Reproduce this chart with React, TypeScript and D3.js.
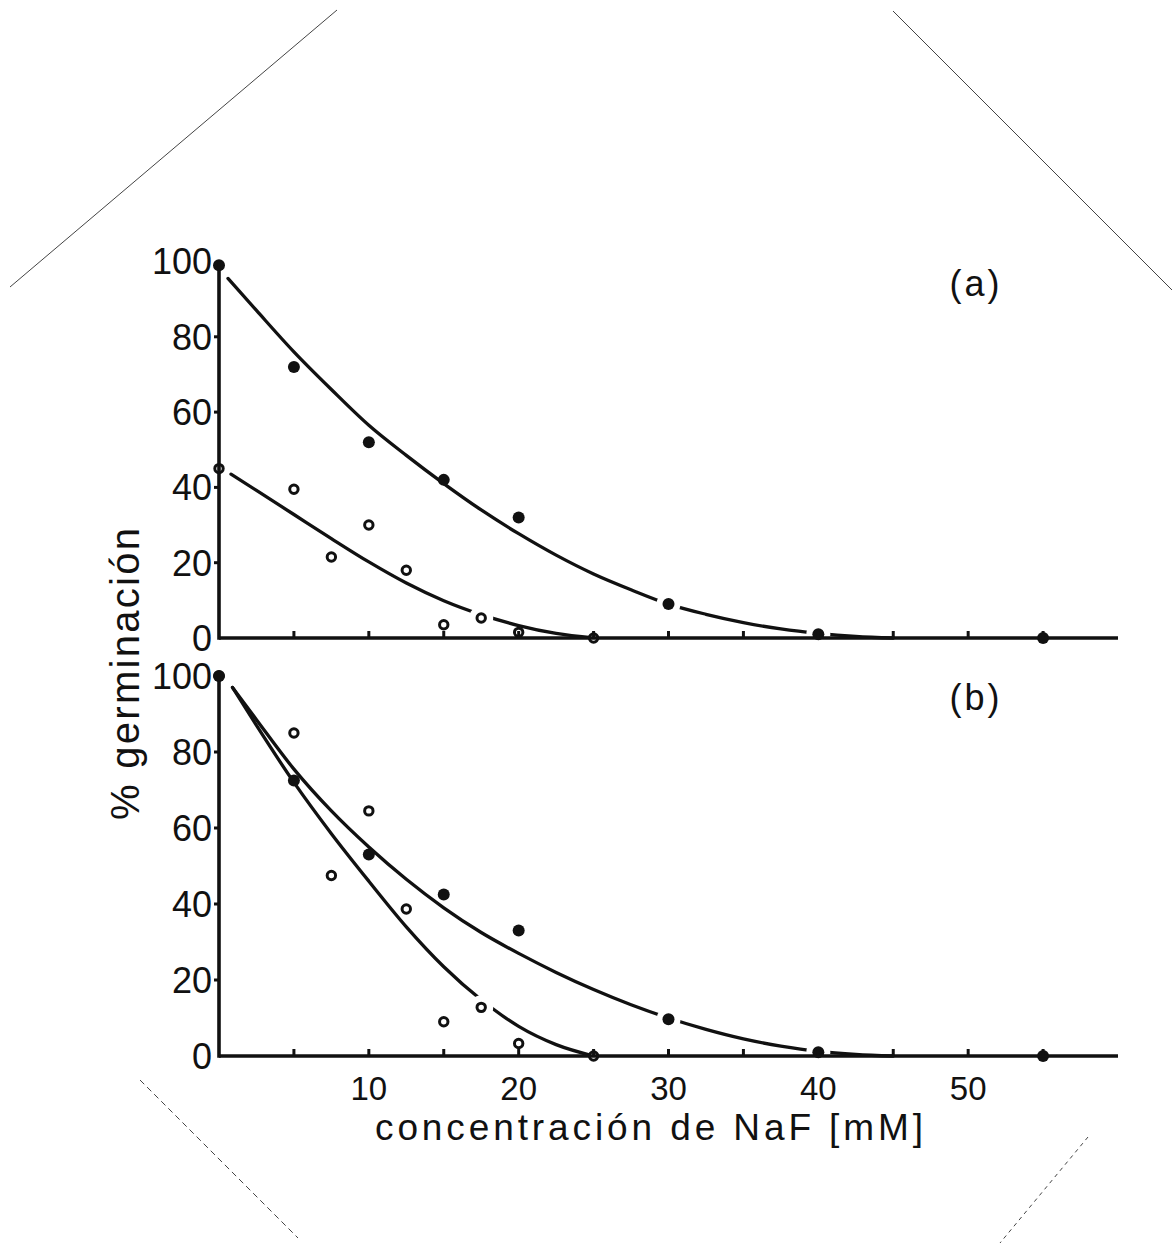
import React from 'react';
import * as d3 from 'd3';

// ---- data ----
const xTickValues = [5, 10, 15, 20, 25, 30, 35, 40, 45, 50, 55];
const xTickLabels = [10, 20, 30, 40, 50];
const yTickValues = [20, 40, 60, 80];
const yTickLabels = [0, 20, 40, 60, 80, 100];

// panel (a)
const aFilled: [number, number][] = [[0, 99], [5, 72], [10, 52], [15, 42], [20, 32], [30, 9], [40, 1], [55, 0]];
const aOpen: [number, number][] = [[0, 45], [5, 39.5], [7.5, 21.5], [10, 30], [12.5, 18], [15, 3.5], [17.5, 5.3], [20, 1.5], [25, 0]];
const aFitFilled: [number, number][] = [[0.6, 95.5], [2.5, 87], [5, 76], [7.5, 66], [10, 56.5], [12.5, 48.5], [15, 41], [17.5, 34], [20, 27.7], [22.5, 22], [25, 17], [27.5, 12.8], [30, 9], [32.5, 6.3], [35, 4.1], [37.5, 2.4], [40, 1.2], [42.5, 0.4], [45, 0]];
const aFitOpen: [number, number][] = [[0.8, 43.5], [2.5, 39.2], [5, 32.8], [7.5, 26.4], [10, 20.2], [12.5, 14.6], [15, 9.9], [17.5, 6.2], [20, 3.3], [22.5, 1.2], [25, 0]];
const aGapsFilled = [30, 40];
const aGapsOpen = [17.5];

// panel (b)
const bFilled: [number, number][] = [[0, 100], [5, 72.5], [10, 53], [15, 42.5], [20, 33], [30, 9.7], [40, 1], [55, 0]];
const bOpen: [number, number][] = [[0, 100], [5, 85], [7.5, 47.5], [10, 64.5], [12.5, 38.7], [15, 9], [17.5, 12.8], [20, 3.3], [25, 0]];
const bFitFilled: [number, number][] = [[0.9, 97], [2.5, 88.5], [5, 75.5], [7.5, 64.5], [10, 55], [12.5, 46.5], [15, 39], [17.5, 32.5], [20, 27], [22.5, 22], [25, 17.5], [27.5, 13.5], [30, 10], [32.5, 7], [35, 4.5], [37.5, 2.6], [40, 1.2], [42.5, 0.4], [45, 0]];
const bFitOpen: [number, number][] = [[0.9, 97], [2.5, 87], [5, 72], [7.5, 58.5], [10, 46], [12.5, 34], [15, 23.5], [17.5, 14.8], [20, 7.8], [22.5, 3], [25, 0]];
const bGapsFilled = [30, 40];
const bGapsOpen = [17.5];

const FONT = '"Liberation Sans", Arial, sans-serif';
const INK = '#111';

type PanelProps = {
  yBottom: number;
  yTop: number;
  filled: [number, number][];
  open: [number, number][];
  fitF: [number, number][];
  fitO: [number, number][];
  gapF: number[];
  gapO: number[];
  tag: string;
  tagY: number;
  showX: boolean;
};

function Panel({ yBottom, yTop, filled, open, fitF, fitO, gapF, gapO, tag, tagY, showX }: PanelProps) {
  const x = d3.scaleLinear().domain([0, 60]).range([219, 1118]);
  const y = d3.scaleLinear().domain([0, 100]).range([yBottom, yTop]);
  const line = d3
    .line<[number, number]>()
    .x((d) => x(d[0]))
    .y((d) => y(d[1]))
    .curve(d3.curveMonotoneX);
  const masks = [
    ...filled.filter((d) => gapF.includes(d[0])),
    ...open.filter((d) => gapO.includes(d[0])),
  ];
  const x0 = x(0);
  const y0 = y(0);
  return (
    <g>
      <path d={line(fitF) || ''} fill="none" stroke={INK} strokeWidth={3.3} strokeLinecap="round" />
      <path d={line(fitO) || ''} fill="none" stroke={INK} strokeWidth={3.3} strokeLinecap="round" />
      {masks.map((d, i) => (
        <circle key={'m' + i} cx={x(d[0])} cy={y(d[1])} r={12} fill="#fff" />
      ))}
      {open.map((d, i) => (
        <circle key={'o' + i} cx={x(d[0])} cy={y(d[1])} r={4.2} fill="#fff" stroke={INK} strokeWidth={3} />
      ))}
      {filled.map((d, i) => (
        <circle key={'f' + i} cx={x(d[0])} cy={y(d[1])} r={6} fill={INK} />
      ))}
      {/* axes */}
      <line x1={x0} x2={x(60)} y1={y0} y2={y0} stroke={INK} strokeWidth={3.6} />
      <line x1={x0} x2={x0} y1={y0 + 1.8} y2={y(100)} stroke={INK} strokeWidth={3.6} />
      {yTickValues.map((v) => (
        <line key={'yt' + v} x1={x0 - 5} x2={x0} y1={y(v)} y2={y(v)} stroke={INK} strokeWidth={3} />
      ))}
      {xTickValues.map((v) => (
        <line key={'xt' + v} x1={x(v)} x2={x(v)} y1={y0} y2={y0 - 7} stroke={INK} strokeWidth={3} />
      ))}
      {yTickLabels.map((v) => (
        <text
          key={'yl' + v}
          x={212}
          y={y(v)}
          dy="0.36em"
          textAnchor="end"
          fontFamily={FONT}
          fontSize={36}
          fill={INK}
        >
          {v}
        </text>
      ))}
      {showX &&
        xTickLabels.map((v) => (
          <text
            key={'xl' + v}
            x={x(v)}
            y={1100}
            textAnchor="middle"
            fontFamily={FONT}
            fontSize={33}
            fill={INK}
          >
            {v}
          </text>
        ))}
      <text x={976} y={tagY} dy="0.36em" textAnchor="middle" fontFamily={FONT} fontSize={36} letterSpacing={3} fill={INK}>
        {tag}
      </text>
    </g>
  );
}

export default function App() {
  return (
    <svg
      width={1174}
      height={1244}
      viewBox="0 0 1174 1244"
      style={{ position: 'absolute', left: 0, top: 0, background: '#fff' }}
    >
      <rect x={0} y={0} width={1174} height={1244} fill="#fff" />
      {/* photo frame corner edges */}
      <g stroke="#444" strokeWidth={1} fill="none">
        <line x1={10} y1={287} x2={337} y2={10} />
        <line x1={893} y1={11} x2={1172} y2={290} />
        <line x1={140} y1={1080} x2={298} y2={1238} strokeDasharray="6 4" />
        <line x1={1088} y1={1137} x2={1000} y2={1243} strokeDasharray="4 4" />
      </g>
      <Panel yBottom={638} yTop={261.5} filled={aFilled} open={aOpen} fitF={aFitFilled} fitO={aFitOpen} gapF={aGapsFilled} gapO={aGapsOpen} tag="(a)" tagY={283} showX={false} />
      <Panel yBottom={1056} yTop={676} filled={bFilled} open={bOpen} fitF={bFitFilled} fitO={bFitOpen} gapF={bGapsFilled} gapO={bGapsOpen} tag="(b)" tagY={697} showX={true} />
      <text
        x={375}
        y={1140}
        fontFamily={FONT}
        fontSize={37}
        textLength={548}
        lengthAdjust="spacing"
        fill={INK}
      >
        concentración de NaF [mM]
      </text>
      <text
        transform="translate(139,674) rotate(-90)"
        textAnchor="middle"
        fontFamily={FONT}
        fontSize={40}
        textLength={292}
        lengthAdjust="spacing"
        fill={INK}
      >
        % germinación
      </text>
    </svg>
  );
}
